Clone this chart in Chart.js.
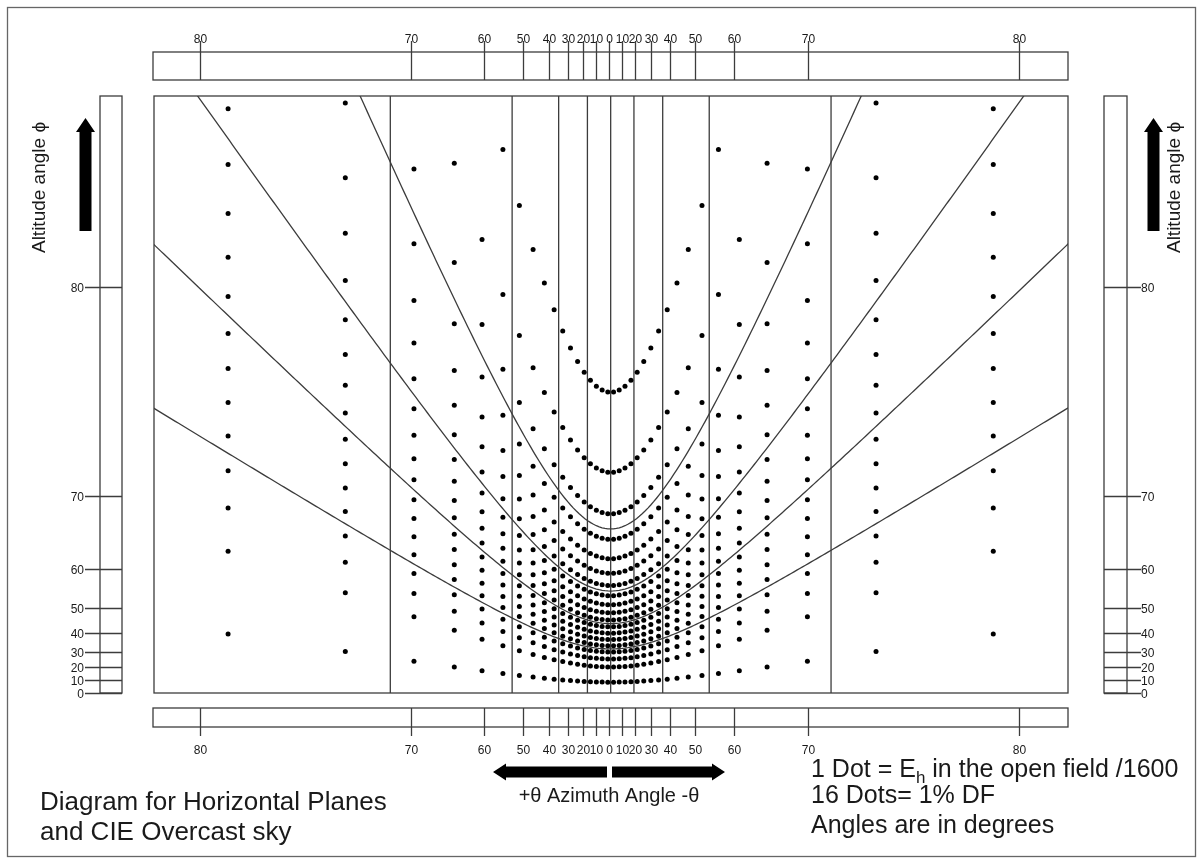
<!DOCTYPE html>
<html><head><meta charset="utf-8"><title>Dot diagram - horizontal plane, CIE overcast sky</title>
<script src="https://cdn.jsdelivr.net/npm/chart.js"></script>
<style>html,body{margin:0;padding:0;background:#fff;overflow:hidden}</style>
</head><body><canvas id="c" width="1203" height="864"></canvas>
<script>
// altitude of each dot row (deg) and azimuth of each dot column (deg, mirrored about 0)
const rowAltitudes = [8.6, 20.0, 25.4, 29.7, 33.4, 36.7, 39.8, 42.7, 45.5, 48.2, 50.9, 53.6, 56.3, 59.1, 61.9, 65.0, 68.2, 72.0, 76.6];
const columnAzimuths = [2.3, 6.8, 11.3, 15.8, 20.3, 24.8, 29.3, 33.8, 38.3, 42.8, 47.3, 51.9, 56.4, 60.9, 65.4, 70.0, 74.9, 79.4];
// altitude curves and azimuth lines that split the dots into 16-dot cells
const curveAltitudes = [31.6, 44.1, 54.9, 66.4];
const lineAzimuths = [0, 18, 36, 54, 72];
// scale ticks, degrees
const tickAngles = [0, 10, 20, 30, 40, 50, 60, 70, 80];

const X_MIN = -6.378, X_MAX = 6.387, Y_MAX = 8.33;
const rad = d => d * Math.PI / 180;
const tan = d => Math.tan(rad(d));
const FONT = '"Liberation Sans", Arial, sans-serif';
const INK = '#1a1a1a', LINE = '#3c3c3c';

// gnomonic projection on the window plane: x = tan(az), y = tan(alt)/cos(az)
const dots = [];
columnAzimuths.forEach(az => [-1, 1].forEach(s => rowAltitudes.forEach(alt => {
  const py = tan(alt) / Math.cos(rad(az));
  if (py < Y_MAX - 0.04) dots.push({ x: s * tan(az), y: py });
})));

const curve = alt => {
  const pts = [];
  for (let i = -160; i <= 160; i++) { const xv = i * 0.04; pts.push({ x: xv, y: tan(alt) * Math.sqrt(1 + xv * xv) }); }
  return pts;
};
const lineSet = (data) => ({ type: 'line', data, borderColor: LINE, borderWidth: 1.3, pointRadius: 0, fill: false, clip: 0, tension: 0 });

const datasets = [{ type: 'scatter', data: dots, pointRadius: 2.5, pointBackgroundColor: '#000', pointBorderWidth: 0, clip: 0 }];
curveAltitudes.forEach(a => datasets.push(lineSet(curve(a))));
lineAzimuths.forEach(az => (az === 0 ? [1] : [-1, 1]).forEach(s => datasets.push(lineSet([{ x: s * tan(az), y: 0 }, { x: s * tan(az), y: Y_MAX }]))));

const upArrow = (ctx, cx, top, bottom) => {
  ctx.beginPath();
  ctx.moveTo(cx, top); ctx.lineTo(cx + 9.5, top + 14); ctx.lineTo(cx + 6, top + 14); ctx.lineTo(cx + 6, bottom);
  ctx.lineTo(cx - 6, bottom); ctx.lineTo(cx - 6, top + 14); ctx.lineTo(cx - 9.5, top + 14); ctx.closePath(); ctx.fill();
};
const sideArrow = (ctx, tip, end, cy) => {
  const d = Math.sign(end - tip);
  ctx.beginPath();
  ctx.moveTo(tip, cy); ctx.lineTo(tip + d * 13, cy - 8.5); ctx.lineTo(tip + d * 13, cy - 5.5); ctx.lineTo(end, cy - 5.5);
  ctx.lineTo(end, cy + 5.5); ctx.lineTo(tip + d * 13, cy + 5.5); ctx.lineTo(tip + d * 13, cy + 8.5); ctx.closePath(); ctx.fill();
};

const decor = {
  id: 'decor',
  afterDraw(chart) {
    const { ctx, chartArea: a, scales: { y, xb } } = chart;
    ctx.save();
    ctx.strokeStyle = LINE; ctx.lineWidth = 1.3; ctx.fillStyle = INK;
    // page frame and plot frame
    ctx.strokeStyle = '#666'; ctx.strokeRect(7.5, 7.5, 1188, 849); ctx.strokeStyle = LINE;
    ctx.strokeRect(a.left, a.top, a.right - a.left, a.bottom - a.top);
    // azimuth bars
    const bars = [{ top: 52, bottom: 80, t0: 41, t1: 80, ly: 40 }, { top: 708, bottom: 727, t0: 708, t1: 736, ly: 751 }];
    ctx.font = '12px ' + FONT; ctx.textAlign = 'center'; ctx.textBaseline = 'middle';
    bars.forEach(b => {
      ctx.strokeRect(a.left - 1, b.top, a.right - a.left + 1, b.bottom - b.top);
      tickAngles.forEach(t => (t === 0 ? [1] : [-1, 1]).forEach(s => {
        const px = Math.round(xb.getPixelForValue(s * tan(t))) + 0.5;
        ctx.beginPath(); ctx.moveTo(px, b.t0); ctx.lineTo(px, b.t1); ctx.stroke();
        ctx.fillText(String(t), px, b.ly);
      }));
    });
    // altitude bars
    [{ l: 100, r: 122, t0: 85, t1: 122, lx: 84, al: 'right' }, { l: 1104, r: 1127, t0: 1104, t1: 1141, lx: 1141, al: 'left' }].forEach(b => {
      ctx.strokeRect(b.l, a.top, b.r - b.l, a.bottom - a.top);
      ctx.textAlign = b.al;
      tickAngles.forEach(t => {
        const py = Math.round(y.getPixelForValue(tan(t))) + 0.5;
        ctx.beginPath(); ctx.moveTo(b.t0, py); ctx.lineTo(b.t1, py); ctx.stroke();
        ctx.fillText(String(t), b.lx, py + 1.5);
      });
    });
    // arrows
    ctx.fillStyle = '#000';
    upArrow(ctx, 85.5, 118, 231); upArrow(ctx, 1153.5, 118, 231);
    sideArrow(ctx, 493, 607, 772); sideArrow(ctx, 725, 612, 772);
    // axis titles
    ctx.fillStyle = INK; ctx.textAlign = 'center'; ctx.textBaseline = 'middle';
    ctx.font = '19px ' + FONT;
    [40, 1175].forEach(cx => {
      ctx.save(); ctx.translate(cx, 187.5); ctx.rotate(-Math.PI / 2);
      ctx.fillText('Altitude angle \u03D5', 0, 0); ctx.restore();
    });
    ctx.font = '20px ' + FONT;
    ctx.fillText('+\u03B8 Azimuth Angle -\u03B8', 609, 796);
    // notes
    ctx.textAlign = 'left'; ctx.textBaseline = 'alphabetic';
    ctx.font = '26px ' + FONT;
    ctx.fillText('Diagram for Horizontal Planes', 40, 810);
    ctx.fillText('and CIE Overcast sky', 40, 840);
    ctx.font = '25px ' + FONT;
    let cx = 811;
    const part1 = '1 Dot = E';
    ctx.fillText(part1, cx, 777); cx += ctx.measureText(part1).width;
    ctx.font = '17px ' + FONT; ctx.fillText('h', cx, 783); cx += ctx.measureText('h').width;
    ctx.font = '25px ' + FONT; ctx.fillText(' in the open field /1600', cx, 777);
    ctx.fillText('16 Dots= 1% DF', 811, 803);
    ctx.fillText('Angles are in degrees', 811, 833);
    ctx.restore();
  }
};

new Chart(document.getElementById('c'), {
  data: { datasets },
  options: {
    responsive: false, animation: false,
    layout: { padding: { left: 154, top: 96, right: 135, bottom: 171 } },
    scales: {
      x: { type: 'linear', min: X_MIN, max: X_MAX, display: false },
      // the printed azimuth bars sit about 1.5 px left of the plot grid
      xb: { type: 'linear', axis: 'x', min: -6.305, max: 6.355, display: false },
      y: { type: 'linear', min: 0, max: Y_MAX, display: false }
    },
    plugins: { legend: { display: false }, tooltip: { enabled: false } }
  },
  plugins: [decor]
});
</script>
</body></html>
